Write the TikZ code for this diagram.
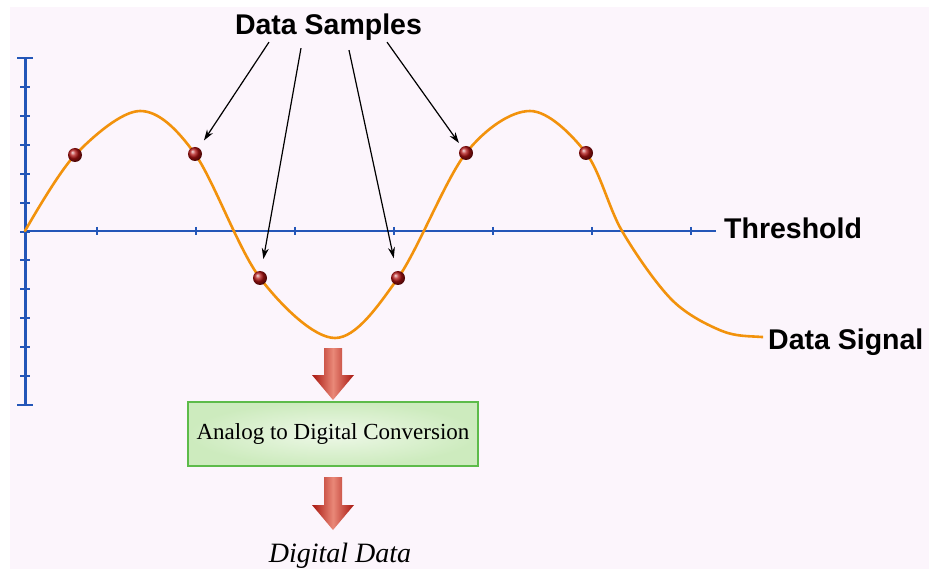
\documentclass[tikz,border=0pt]{standalone}
\usepackage{fontspec}
\setmainfont{Liberation Serif}
\setsansfont{Liberation Sans}
\usepackage{xcolor}
\usepackage{tikz}
\usetikzlibrary{positioning, arrows.meta, calc}
\definecolor{bgpink}{HTML}{FCF5FC}
\definecolor{axisblue}{HTML}{2456B8}
\definecolor{signalorange}{HTML}{F2920C}
\definecolor{dotred}{HTML}{B01212}
\definecolor{boxgreen}{HTML}{5DBB4A}
\definecolor{boxlight}{HTML}{EEF8E8}
\definecolor{boxfill}{HTML}{CDEBBE}
\definecolor{arrowred}{HTML}{A8160F}
\definecolor{arrowlight}{HTML}{E98878}

% fat red arrow: centre x, top y, tip y
\newcommand{\fatarrow}[3]{%
  \shade[left color=arrowred, right color=arrowred, middle color=arrowlight]
    (#1-9,#2) -- (#1+9,#2) -- (#1+9,#3-25) -- (#1+21,#3-25) -- (#1,#3)
    -- (#1-21,#3-25) -- (#1-9,#3-25) -- cycle;}

\begin{document}
\begin{tikzpicture}[x=1pt, y=-1pt,
    lbl/.style={font=\sffamily\bfseries\fontsize{28.5}{32}\selectfont, inner sep=0, anchor=base},
    sample/.style={circle, inner sep=0, minimum size=14pt, shading=ball, ball color=dotred},
    pointer/.style={-{Stealth[length=11pt, width=7pt]}, line width=1.2pt}]
  \useasboundingbox (0,0) rectangle (929,569);
  \fill[white] (0,0) rectangle (929,569);
  \fill[bgpink] (10,7) rectangle (929,569);

  % axes
  \draw[axisblue, line width=3pt] (25,58) -- (25,405);
  \foreach \i in {0,...,12}
    \draw[axisblue, line width=2pt] (20,58+28.92*\i) -- (30,58+28.92*\i);
  \draw[axisblue, line width=2.4pt] (17,58) -- (33,58) (17,405) -- (33,405);
  \draw[axisblue, line width=2.6pt] (25,231) -- (716,231);
  \foreach \x in {97,196,...,691}
    \draw[axisblue, line width=1.5pt] (\x,227) -- (\x,235);

  % the signal (clipped so the tail ends flat)
  \begin{scope}
    \clip (0,0) rectangle (763,569);
    \draw[signalorange, line width=2.6pt, line cap=round] plot[smooth, tension=0.55] coordinates {
      (25,231) (75,155) (140,111) (195,154) (260,278) (335,338) (398,278)
      (466,153) (530,111) (586,153) (622,231) (672,300) (722,331) (762,337)
      (800,337)};
  \end{scope}

  \foreach \p/\x/\y in {s1/75/155, s2/195/154, s3/260/278, s4/398/278, s5/466/153, s6/586/153}
    \node[sample] (\p) at (\x,\y) {};

  \node[lbl] (samples) at (328.5,35) {Data Samples};
  \node[lbl, anchor=base west] (thresh) at (724,239) {Threshold};
  \node[lbl, anchor=base west] (signal) at (768,349) {Data Signal};

  \draw[pointer, shorten >=9pt] ([xshift=-59.5pt, yshift=-1pt]samples.south) -- (s2);
  \draw[pointer, shorten >=12pt] ([xshift=-27.5pt, yshift=-7pt]samples.south) -- (s3);
  \draw[pointer, shorten >=13pt] ([xshift=20.5pt, yshift=-9pt]samples.south) -- (s4);
  \draw[pointer, shorten >=5pt] ([xshift=58.5pt, yshift=-1pt]samples.south) -- (s5);

  % conversion step
  \node[draw=boxgreen, line width=2.2pt, inner color=boxlight, outer color=boxfill,
        minimum width=290pt, minimum height=64pt, inner sep=0,
        font=\fontsize{23}{26}\selectfont] (adc) at (333,434) {Analog to Digital Conversion};
  \node[font=\itshape\fontsize{28}{32}\selectfont, inner sep=0, anchor=base] (digital)
    at (340,562) {Digital Data};

  \fatarrow{333}{348}{400}
  \fatarrow{333}{477}{530}
\end{tikzpicture}
\end{document}
